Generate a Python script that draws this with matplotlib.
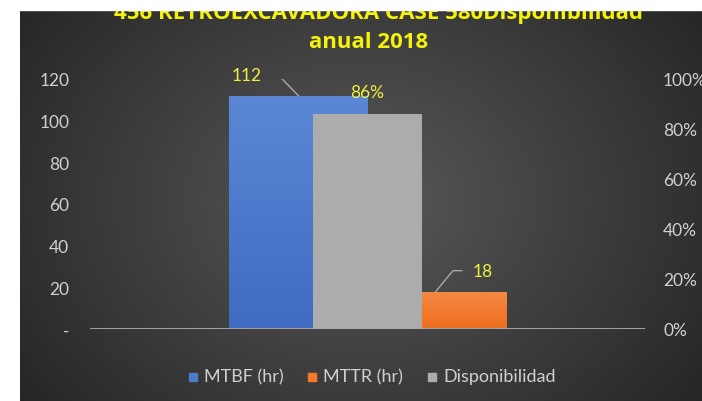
import numpy as np
import matplotlib
matplotlib.use("Agg")
import matplotlib.pyplot as plt
from matplotlib.patches import Rectangle
from matplotlib.colors import LinearSegmentedColormap

# data
categories = ["456 RETROEXCAVADORA CASE 580"]
mtbf = [112]
mttr = [18]
disponibilidad = [0.86]
left_ticks = [0, 20, 40, 60, 80, 100, 120]
left_labels = ["-", "20", "40", "60", "80", "100", "120"]
right_ticks = [0, 0.2, 0.4, 0.6, 0.8, 1.0]
right_labels = ["0%", "20%", "40%", "60%", "80%", "100%"]

W, H = 702, 402
FONT = "Lato"
fig = plt.figure(figsize=(W / 100, H / 100), dpi=100, facecolor="white")

# dark radial background panel
bg = fig.add_axes([20 / W, 0, (W - 20) / W, (H - 11) / H])
bg.set_axis_off()
yy, xx = np.mgrid[0:391, 0:682]
r = np.sqrt(((xx - 340) / 420.0) ** 2 + ((yy - 190) / 330.0) ** 2)
shade = np.clip(0.35 - 0.20 * r, 0.14, 0.35)
bg.imshow(np.dstack([shade] * 3), aspect="auto", extent=[0, 1, 0, 1])

px = lambda x: x / W
py = lambda y: (H - y) / H

ax = fig.add_axes([px(90), py(330), 555 / W, 250 / H])
ax.patch.set_alpha(0)
ax2 = ax.twinx()
ax2.patch.set_alpha(0)

center = 0.5
wprim = 0.249


def grad_bar(a, x, h, w, top, bottom, z):
    bars = a.bar(x, h, width=w, color=bottom, zorder=z)
    cmap = LinearSegmentedColormap.from_list("g", [bottom, top])
    for b in bars:
        im = a.imshow(np.linspace(0, 1, 100).reshape(-1, 1), cmap=cmap,
                      origin="lower", aspect="auto", zorder=z,
                      extent=[b.get_x(), b.get_x() + b.get_width(), 0, b.get_height()])
        im.set_clip_path(b)


grad_bar(ax, [center - wprim / 2], mtbf, wprim, "#5b87d6", "#3f6cc2", 2)
grad_bar(ax, [center + wprim / 2], mttr, wprim, "#f58a45", "#ee6e1c", 2)
ax2.bar(center, disponibilidad, width=0.198, color="#acacac", zorder=3)

ax.set_xlim(0, 1)
ax.set_ylim(0, 120)
ax2.set_ylim(0, 1)
ax.set_xticks([])
ax.set_yticks(left_ticks, left_labels)
ax2.set_yticks(right_ticks, right_labels)
for a in (ax, ax2):
    for s in a.spines.values():
        s.set_visible(False)
    a.tick_params(length=0, labelsize=12.5, labelcolor="#d0d0d0")
    for t in a.get_yticklabels():
        t.set_family(FONT)
ax.tick_params(pad=15)
ax2.tick_params(pad=13)
ax.axhline(0, color="#a0a0a0", lw=1.5, zorder=4)

lab_col = "#f0f040"
# data labels with leader lines
ax.text(center - 0.217, mtbf[0] + 10, f"{mtbf[0]}", color=lab_col,
        fontsize=12.5, ha="center", va="center", family=FONT)
ax.plot([center - 0.179, center - 0.161, center - wprim / 2],
        [mtbf[0] + 10, mtbf[0] + 10, mtbf[0]], color="#a8a8a8", lw=1, zorder=5)
ax2.text(center, disponibilidad[0] + 0.088, f"{disponibilidad[0]:.0%}",
         color=lab_col, fontsize=12.5, ha="center", va="center", zorder=6,
         family=FONT)
ax.text(center + 0.208, mttr[0] + 10, f"{mttr[0]}", color=lab_col,
        fontsize=12.5, ha="center", va="center", family=FONT)
ax.plot([center + 0.17, center + 0.154, center + 0.123],
        [mttr[0] + 10, mttr[0] + 10, mttr[0]], color="#a8a8a8", lw=1, zorder=5)

# title
fig.text(px(378), py(14), categories[0] + "Disponibilidad", color="#f5f20a",
         fontsize=16, fontweight="bold", ha="center", va="center",
         family="Open Sans")
fig.text(px(369), py(42), "anual 2018", color="#f5f20a",
         fontsize=16, fontweight="bold", ha="center", va="center",
         family="Open Sans")
# white top band clips the first title line
fig.patches.append(Rectangle((0, py(11)), 1, 1, transform=fig.transFigure,
                             color="white", zorder=10))

# legend
items = [("MTBF (hr)", "#4f7bcb", 189), ("MTTR (hr)", "#f27a2a", 308),
         ("Disponibilidad", "#acacac", 428)]
for name, col, x0 in items:
    fig.patches.append(Rectangle((px(x0), py(382)), 8 / W, 8 / H,
                                 transform=fig.transFigure, color=col))
    fig.text(px(x0 + 15), py(377), name, color="#d0d0d0", fontsize=13,
             ha="left", va="center", family=FONT)

fig.savefig("out.png", dpi=100, facecolor="white")
